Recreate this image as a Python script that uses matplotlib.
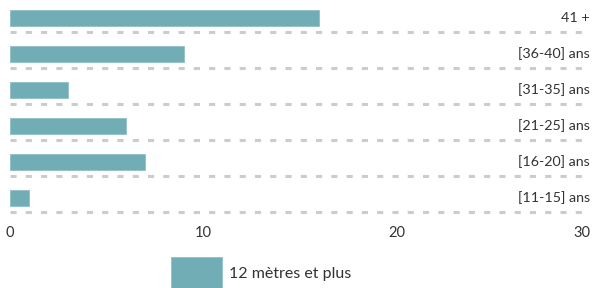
import matplotlib.pyplot as plt

categories = ['41 +', '[36-40] ans', '[31-35] ans', '[21-25] ans', '[16-20] ans', '[11-15] ans']
values = [16, 9, 3, 6, 7, 1]
series_name = '12 mètres et plus'
xticks = [0, 10, 20, 30]

plt.rcParams['font.family'] = ['Lato', 'DejaVu Sans']
bar_color = '#71adb5'
text_color = '#333333'

fig = plt.figure(figsize=(5.96, 2.88), dpi=100)
# axes spans x 10..590 px, y 0..216 px (from top)
ax = fig.add_axes([10 / 596, 1 - 216 / 288, 580 / 596, 216 / 288])

ypos = [i + 0.5 for i in range(len(categories))]
ax.barh(ypos, values, height=0.44, color=bar_color, edgecolor='#8fc0c7',
        linewidth=0.6, label=series_name, zorder=2)
for y, cat in zip(ypos, categories):
    ax.hlines(y + 0.39, 0, 30, colors='#cccccc', linestyles=(0, (2, 3)),
              linewidth=2.2, zorder=1)
    ax.text(30, y, cat, ha='right', va='center', fontsize=10.3, color=text_color)

ax.set_xlim(0, 30)
ax.set_ylim(len(categories), 0)
ax.set_xticks(xticks)
ax.set_xticklabels([str(t) for t in xticks], fontsize=10.5, color=text_color)
ax.get_xticklabels()[-1].set_ha('right')
ax.tick_params(axis='x', length=0, pad=7)
ax.set_yticks([])
for s in ax.spines.values():
    s.set_visible(False)

leg = fig.legend(loc='center left', bbox_to_anchor=(171 / 596, 1 - 273 / 288),
                 frameon=False, fontsize=11.5, handlelength=3.2, handleheight=2.75,
                 handletextpad=0.45, borderpad=0, borderaxespad=0)
for t in leg.get_texts():
    t.set_color(text_color)

plt.savefig('out.png', dpi=100)
